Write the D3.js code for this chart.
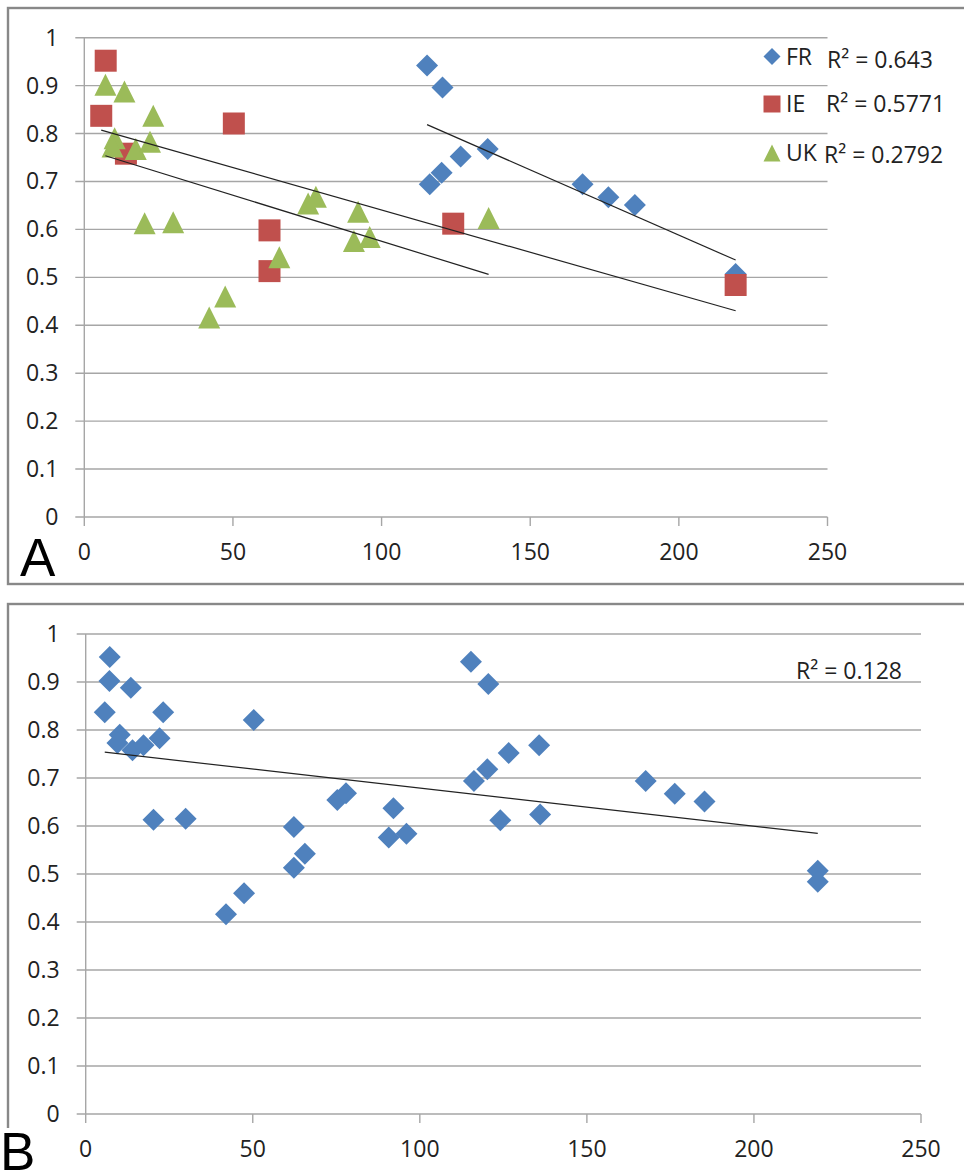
<!DOCTYPE html>
<html>
<head>
<meta charset="utf-8">
<script src="https://cdn.jsdelivr.net/npm/d3@7"></script>
<style>
  html, body { margin: 0; padding: 0; background: #fff; }
  svg { display: block; }
  text { font-family: "Open Sans", "Liberation Sans", sans-serif; fill: #222; }
</style>
</head>
<body>
<svg id="chart" width="964" height="1176"></svg>
<script>
// Series values: x and y for each country
const frX = [115.3, 120.5, 135.7, 126.6, 120.2, 116.2, 167.6, 176.3, 185.2, 219.1];
const frY = [0.942, 0.896, 0.768, 0.752, 0.718, 0.694, 0.694, 0.667, 0.651, 0.507];

const ieX = [7.2, 5.7, 14.0, 50.3, 62.3, 62.3, 124.1, 219.1];
const ieY = [0.952, 0.837, 0.758, 0.821, 0.598, 0.513, 0.612, 0.484];

const ukX = [7.1, 13.5, 23.2, 10.2, 9.5, 17.3, 22.1, 20.3, 29.9, 65.6, 42.0, 47.4, 75.3, 77.9, 92.1, 90.7, 96.0, 136.0];
const ukY = [0.902, 0.888, 0.837, 0.790, 0.773, 0.768, 0.783, 0.613, 0.615, 0.542, 0.416, 0.460, 0.654, 0.668, 0.637, 0.576, 0.584, 0.624];

const seriesNames = ["FR", "IE", "UK"];
const rSquaredA = ["0.643", "0.5771", "0.2792"];
const rSquaredB = ["0.128"];

const xTicks = [0, 50, 100, 150, 200, 250];
const yTicks = [0, 0.1, 0.2, 0.3, 0.4, 0.5, 0.6, 0.7, 0.8, 0.9, 1];

const colors = { FR: "#4F81BD", IE: "#C0504D", UK: "#9BBB59" };

const series = [
  { name: "FR", shape: "diamond", pts: frX.map((x, i) => ({ x, y: frY[i] })) },
  { name: "IE", shape: "square",  pts: ieX.map((x, i) => ({ x, y: ieY[i] })) },
  { name: "UK", shape: "triangle", pts: ukX.map((x, i) => ({ x, y: ukY[i] })) }
];

const svg = d3.select("#chart");

// marker path generators centred on (0,0)
function markerPath(shape, s) {
  const h = s / 2;
  if (shape === "diamond") return `M0,${-h}L${h},0L0,${h}L${-h},0Z`;
  if (shape === "square") return `M${-h},${-h}H${h}V${h}H${-h}Z`;
  // triangle
  return `M0,${-h}L${h},${h}L${-h},${h}Z`;
}

// ordinary least squares fit
function linFit(pts) {
  const mx = d3.mean(pts, d => d.x), my = d3.mean(pts, d => d.y);
  let sxy = 0, sxx = 0;
  pts.forEach(p => { sxy += (p.x - mx) * (p.y - my); sxx += (p.x - mx) ** 2; });
  const b = sxy / sxx, a = my - b * mx;
  const [x0, x1] = d3.extent(pts, d => d.x);
  return [{ x: x0, y: a + b * x0 }, { x: x1, y: a + b * x1 }];
}

function drawPanel(cfg) {
  const g = svg.append("g");

  // outer frame
  g.append("rect")
    .attr("x", cfg.frame.x).attr("y", cfg.frame.y)
    .attr("width", cfg.frame.w).attr("height", cfg.frame.h)
    .attr("fill", "#fff").attr("stroke", "#888").attr("stroke-width", 2.4);

  const x = d3.scaleLinear().domain([0, 250]).range([cfg.x0, cfg.x1]);
  const y = d3.scaleLinear().domain([0, 1]).range([cfg.y0, cfg.y1]);

  // horizontal gridlines with left tick stubs
  g.append("g").selectAll("line").data(yTicks).join("line")
    .attr("x1", cfg.x0 - 9).attr("x2", cfg.x1)
    .attr("y1", d => y(d)).attr("y2", d => y(d))
    .attr("stroke", "#a6a6a6").attr("stroke-width", 1.4);

  // vertical axis line
  g.append("line")
    .attr("x1", cfg.x0).attr("x2", cfg.x0)
    .attr("y1", y(1)).attr("y2", y(0))
    .attr("stroke", "#a6a6a6").attr("stroke-width", 1.4);

  // x-axis ticks
  g.append("g").selectAll("line").data(xTicks).join("line")
    .attr("x1", d => x(d)).attr("x2", d => x(d))
    .attr("y1", y(0)).attr("y2", y(0) + 9)
    .attr("stroke", "#a6a6a6").attr("stroke-width", 1.4);

  // y tick labels
  g.append("g").selectAll("text").data(yTicks).join("text")
    .attr("x", cfg.x0 - 26).attr("y", d => y(d) + 8)
    .attr("text-anchor", "end").attr("font-size", 23)
    .text(d => d3.format("")(+d.toFixed(1)));

  // x tick labels
  g.append("g").selectAll("text").data(xTicks).join("text")
    .attr("x", d => x(d)).attr("y", y(0) + 43)
    .attr("text-anchor", "middle").attr("font-size", 23)
    .text(d => d);

  // markers
  cfg.groups.forEach(grp => {
    g.append("g").selectAll("path").data(grp.pts).join("path")
      .attr("transform", d => `translate(${x(d.x)},${y(d.y)})`)
      .attr("d", markerPath(grp.shape, 22))
      .attr("fill", grp.color);
  });

  // linear trendlines
  cfg.trends.forEach(pts => {
    const [p0, p1] = linFit(pts);
    g.append("line")
      .attr("x1", x(p0.x)).attr("y1", y(p0.y))
      .attr("x2", x(p1.x)).attr("y2", y(p1.y))
      .attr("stroke", "#222").attr("stroke-width", 1.2);
  });

  // R² annotations
  cfg.rLabels.forEach(r => {
    g.append("text")
      .attr("x", r.x).attr("y", r.y).attr("font-size", 23)
      .text("R² = " + r.text);
  });

  // legend
  if (cfg.legend) {
    cfg.legend.forEach(item => {
      g.append("path")
        .attr("transform", `translate(${item.x},${item.y})`)
        .attr("d", markerPath(item.shape, 17))
        .attr("fill", colors[item.name]);
      g.append("text")
        .attr("x", item.x + 14).attr("y", item.y + 8)
        .attr("font-size", 23).text(item.name);
    });
  }

  // panel letter
  const lt = g.append("g");
  if (cfg.letterBg) {
    lt.append("rect")
      .attr("x", cfg.letterBg.x).attr("y", cfg.letterBg.y)
      .attr("width", cfg.letterBg.w).attr("height", cfg.letterBg.h)
      .attr("fill", "#fff");
  }
  lt.append("text")
    .attr("x", cfg.letter.x).attr("y", cfg.letter.y)
    .attr("font-size", 53)
    .style("font-family", "'Liberation Sans', Arial, sans-serif")
    .style("fill", "#000")
    .text(cfg.letter.text);
}

// Panel A: one colour and trendline per country
drawPanel({
  frame: { x: 8, y: 8, w: 1000, h: 576 },
  x0: 84.3, x1: 827.5, y0: 517, y1: 37.7,
  groups: series.map(s => ({ pts: s.pts, shape: s.shape, color: colors[s.name] })),
  trends: series.map(s => s.pts),
  rLabels: [
    { x: 827, y: 68, text: rSquaredA[0] },
    { x: 826, y: 112, text: rSquaredA[1] },
    { x: 824, y: 163, text: rSquaredA[2] }
  ],
  legend: seriesNames.map((name, i) => ({
    name, shape: series[i].shape, x: 772, y: [56.5, 104, 153][i]
  })),
  letter: { text: "A", x: 20, y: 576 }
});

// Panel B: all countries pooled together
const pooled = series.flatMap(s => s.pts);
drawPanel({
  frame: { x: 8, y: 604, w: 1000, h: 600 },
  x0: 85.7, x1: 921, y0: 1114, y1: 634,
  groups: [{ pts: pooled, shape: "diamond", color: colors.FR }],
  trends: [pooled],
  rLabels: [{ x: 796, y: 679, text: rSquaredB[0] }],
  legend: null,
  letter: { text: "B", x: 0, y: 1170 },
  letterBg: { x: 0, y: 1128, w: 42, h: 48 }
});
</script>
</body>
</html>
